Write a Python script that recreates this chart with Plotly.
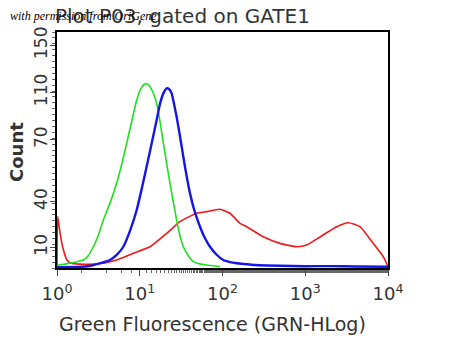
import plotly.graph_objects as go

# ---- data ----
green_x = [1.0, 1.2, 1.44, 1.75, 2.08, 2.4, 2.75, 3.15, 3.63, 4.4, 5.26, 6.1, 6.95, 8.0, 9.19, 10.3, 11.4, 12.3, 13.3, 14.6, 16.0, 17.6, 19.3, 21.2, 23.2, 25.5, 27.9, 30.6, 33.6, 38.5, 44.4, 53.0, 64.5, 93.0]
green_y = [2.0, 2.5, 3.4, 4.3, 5.4, 8.5, 14.4, 22.0, 32.5, 44.5, 57.4, 71.0, 84.5, 99.5, 113.9, 121.5, 124.7, 124.8, 122.9, 118.5, 111.7, 99.0, 84.5, 70.5, 57.4, 44.5, 32.5, 22.0, 14.4, 8.5, 4.3, 2.8, 2.0, 1.0]

blue_x = [1.0, 2.0, 2.7, 3.3, 4.37, 5.3, 6.33, 7.6, 9.19, 10.5, 12.1, 14.0, 16.0, 17.6, 19.3, 21.2, 22.7, 24.3, 25.9, 27.9, 30.6, 33.6, 36.8, 40.5, 46.0, 53.5, 61.0, 70.6, 85.0, 102, 123, 148, 200, 250, 500, 1000, 2000, 4000, 10000]
blue_y = [0.6, 0.8, 1.8, 3.2, 5.4, 9.0, 14.4, 25.0, 39.3, 53.0, 68.7, 85.0, 100.3, 111.5, 118.4, 121.8, 121.2, 118.4, 111.5, 102.6, 89.5, 75.5, 62.5, 50.6, 38.5, 28.0, 20.5, 14.4, 9.0, 5.4, 4.0, 3.2, 2.5, 2.0, 1.5, 1.2, 1.3, 1.0, 0.8]

red_x = [1.0, 1.02, 1.08, 1.17, 1.32, 1.48, 2.5, 3.8, 5.26, 8.36, 13.3, 21.2, 30.6, 48.8, 64.5, 93.0, 123, 163, 196, 311, 495, 790, 1040, 1520, 2400, 3320, 4580, 6630, 8760, 10000]
red_y = [0.5, 34.8, 25.0, 14.4, 5.4, 3.2, 2.5, 3.5, 5.4, 10.0, 14.4, 23.5, 31.4, 37.1, 38.2, 39.8, 37.1, 30.3, 28.0, 21.2, 16.7, 14.4, 15.6, 21.2, 28.0, 30.7, 28.0, 16.7, 7.7, 1.0]

x_tickvals = [1, 10, 100, 1000, 10000]
x_ticktext = ["10<sup>0</sup>", "10<sup>1</sup>", "10<sup>2</sup>", "10<sup>3</sup>", "10<sup>4</sup>"]
y_tickvals = [14, 45, 87, 119, 151]
y_ticktext = ["10", "40", "70", "110", "150"]

title_text = "Plot P03, gated on GATE1"
x_title = "Green Fluorescence (GRN-HLog)"
y_title = "<b>Count</b>"
watermark = "<i>with permission from OriGene</i>"

fig = go.Figure()
fig.add_trace(go.Scatter(x=red_x, y=red_y, mode="lines", line=dict(color="#f01818", width=1.6, shape="spline", smoothing=0.5), showlegend=False))
fig.add_trace(go.Scatter(x=green_x, y=green_y, mode="lines", line=dict(color="#1ee01e", width=1.6, shape="spline", smoothing=0.5), showlegend=False))
fig.add_trace(go.Scatter(x=blue_x, y=blue_y, mode="lines", line=dict(color="#1515e8", width=2.4, shape="spline", smoothing=0.5), showlegend=False))

font_family = "DejaVu Sans"
fig.update_layout(
    width=450, height=338,
    margin=dict(l=57, r=62, t=32, b=70),
    paper_bgcolor="white", plot_bgcolor="white",
    font=dict(family=font_family, color="#333333"),
    title=dict(text=title_text, x=55/450, xanchor="left", y=1-16/338, yanchor="middle",
               font=dict(size=20, color="#333333", family=font_family)),
)
fig.update_xaxes(
    type="log", range=[0, 4], tickvals=x_tickvals, ticktext=x_ticktext,
    showline=True, linecolor="black", linewidth=1.5, mirror=True,
    ticks="outside", ticklen=6, tickcolor="#444", showgrid=False, zeroline=False,
    tickfont=dict(size=18, color="#333333"), ticklabelstandoff=3,
    minor=dict(ticks="outside", ticklen=3, tickcolor="#666", showgrid=False),
)
fig.update_yaxes(
    range=[0, 160], tickvals=y_tickvals, ticktext=y_ticktext, tickangle=-90,
    showline=True, linecolor="black", linewidth=1.5, mirror=True,
    ticks="outside", ticklen=5, tickcolor="#444", showgrid=False, zeroline=False,
    tickfont=dict(size=17, color="#333333"), ticklabelstandoff=-4,
    minor=dict(ticks="outside", ticklen=3, tickcolor="#666", dtick=4, tick0=0, showgrid=False),
)
# y-axis title
fig.add_annotation(text=y_title, xref="paper", yref="paper", x=(16-57)/331, y=(268-152)/236,
                   showarrow=False, xanchor="center", yanchor="middle", textangle=-90,
                   font=dict(family=font_family, size=18, color="#333333"))
# x-axis title
fig.add_annotation(text=x_title, xref="paper", yref="paper", x=(212-57)/331, y=(268-324)/236,
                   showarrow=False, xanchor="center", yanchor="middle",
                   font=dict(family=font_family, size=19, color="#333333"))
fig.add_annotation(text=watermark, xref="paper", yref="paper", x=(8-57)/331, y=(268-16)/236,
                   showarrow=False, xanchor="left", yanchor="middle",
                   font=dict(family="Liberation Serif", size=12, color="black"))

fig.write_html("out.html")
